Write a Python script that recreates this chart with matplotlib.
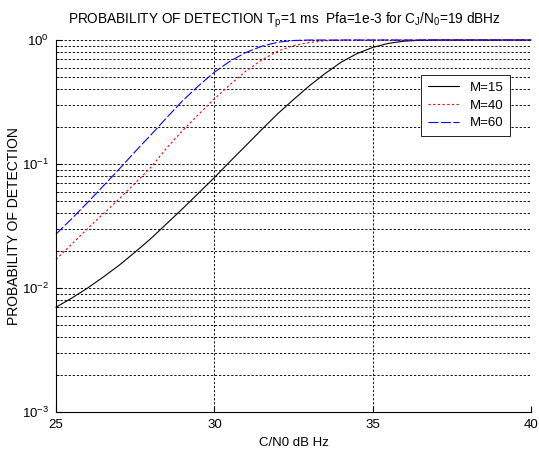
import matplotlib
matplotlib.use("Agg")
import matplotlib.pyplot as plt
import numpy as np
from matplotlib.ticker import LogLocator, NullFormatter, FixedLocator

plt.rcParams['font.family'] = ['Liberation Sans', 'DejaVu Sans']
plt.rcParams['mathtext.fontset'] = 'custom'
plt.rcParams['mathtext.rm'] = 'Liberation Sans'
plt.rcParams['mathtext.it'] = 'Liberation Sans'

cn0 = [25, 25.5, 26, 26.5, 27, 27.5, 28, 28.5, 29, 29.5, 30, 30.5, 31, 31.5,
       32, 32.5, 33, 33.5, 34, 34.5, 35, 35.5, 36, 36.5, 37, 37.5, 38, 38.5,
       39, 39.5, 40]
pd_m15 = [0.0070, 0.0083, 0.0100, 0.0123, 0.0153, 0.0195, 0.0251, 0.0331,
          0.0437, 0.0582, 0.0776, 0.105, 0.141, 0.190, 0.254, 0.331, 0.427,
          0.537, 0.661, 0.776, 0.871, 0.940, 0.979, 0.995, 1.0, 1.0, 1.0, 1.0,
          1.0, 1.0, 1.0]
pd_m40 = [0.0170, 0.0226, 0.0302, 0.0398, 0.0525, 0.070, 0.0944, 0.135,
          0.186, 0.251, 0.335, 0.437, 0.562, 0.692, 0.813, 0.902, 0.955, 0.986,
          0.998, 1.0, 1.0, 1.0, 1.0, 1.0, 1.0, 1.0, 1.0, 1.0, 1.0, 1.0, 1.0]
pd_m60 = [0.0272, 0.0363, 0.049, 0.0668, 0.0912, 0.126, 0.172, 0.237, 0.324,
          0.427, 0.55, 0.676, 0.794, 0.891, 0.959, 0.991, 1.0, 1.0, 1.0, 1.0,
          1.0, 1.0, 1.0, 1.0, 1.0, 1.0, 1.0, 1.0, 1.0, 1.0, 1.0]
labels = ['M=15', 'M=40', 'M=60']
xticks = [25, 30, 35, 40]

fig = plt.figure(figsize=(5.39, 4.50), dpi=100)
ax = fig.add_axes([56/539, 38/450, 475/539, 372/450])

ax.plot(cn0, pd_m15, color='black', lw=0.8, label=labels[0], clip_on=False)
ax.plot(cn0, pd_m40, color='red', lw=0.8, dashes=(2, 2.2), label=labels[1], clip_on=False)
ax.plot(cn0, pd_m60, color='blue', lw=0.8, dashes=(9, 2.2), label=labels[2], clip_on=False)

ax.set_yscale('log')
ax.set_xlim(25, 40)
ax.set_ylim(1e-3, 1)
ax.xaxis.set_major_locator(FixedLocator(xticks))
ax.yaxis.set_major_locator(LogLocator(base=10, numticks=10))
ax.yaxis.set_minor_locator(LogLocator(base=10, subs=np.arange(2, 10), numticks=20))
ax.yaxis.set_minor_formatter(NullFormatter())

grid_kw = dict(color='black', lw=0.65, linestyle=(0, (2.5, 2)))
ax.grid(True, which='major', axis='both', **grid_kw)
ax.grid(True, which='minor', axis='y', **grid_kw)

ax.tick_params(which='both', direction='in', labelsize=9.5, top=False, right=False)
ax.tick_params(which='major', length=4, pad=5)
ax.tick_params(which='minor', length=2)
ax.spines['top'].set_visible(False)
ax.spines['right'].set_visible(False)
for s in ('left', 'bottom'):
    ax.spines[s].set_linewidth(0.8)

ax.set_xlabel('C/N0 dB Hz', fontsize=9.5, labelpad=4)
ax.set_ylabel('PROBABILITY OF DETECTION', fontsize=10, labelpad=1)
ax.set_title(r'PROBABILITY OF DETECTION T$_p$=1 ms  Pfa=1e-3 for C$_J$/N$_0$=19 dBHz',
             fontsize=9.8, pad=12, x=0.48)

leg = ax.legend(loc='upper right', bbox_to_anchor=(0.956, 0.906), fontsize=9.5,
                fancybox=False, framealpha=1, edgecolor='black', borderaxespad=0,
                handlelength=2.4, borderpad=0.5, labelspacing=0.42)
leg.get_frame().set_linewidth(0.6)

fig.savefig('out.png', dpi=100)
